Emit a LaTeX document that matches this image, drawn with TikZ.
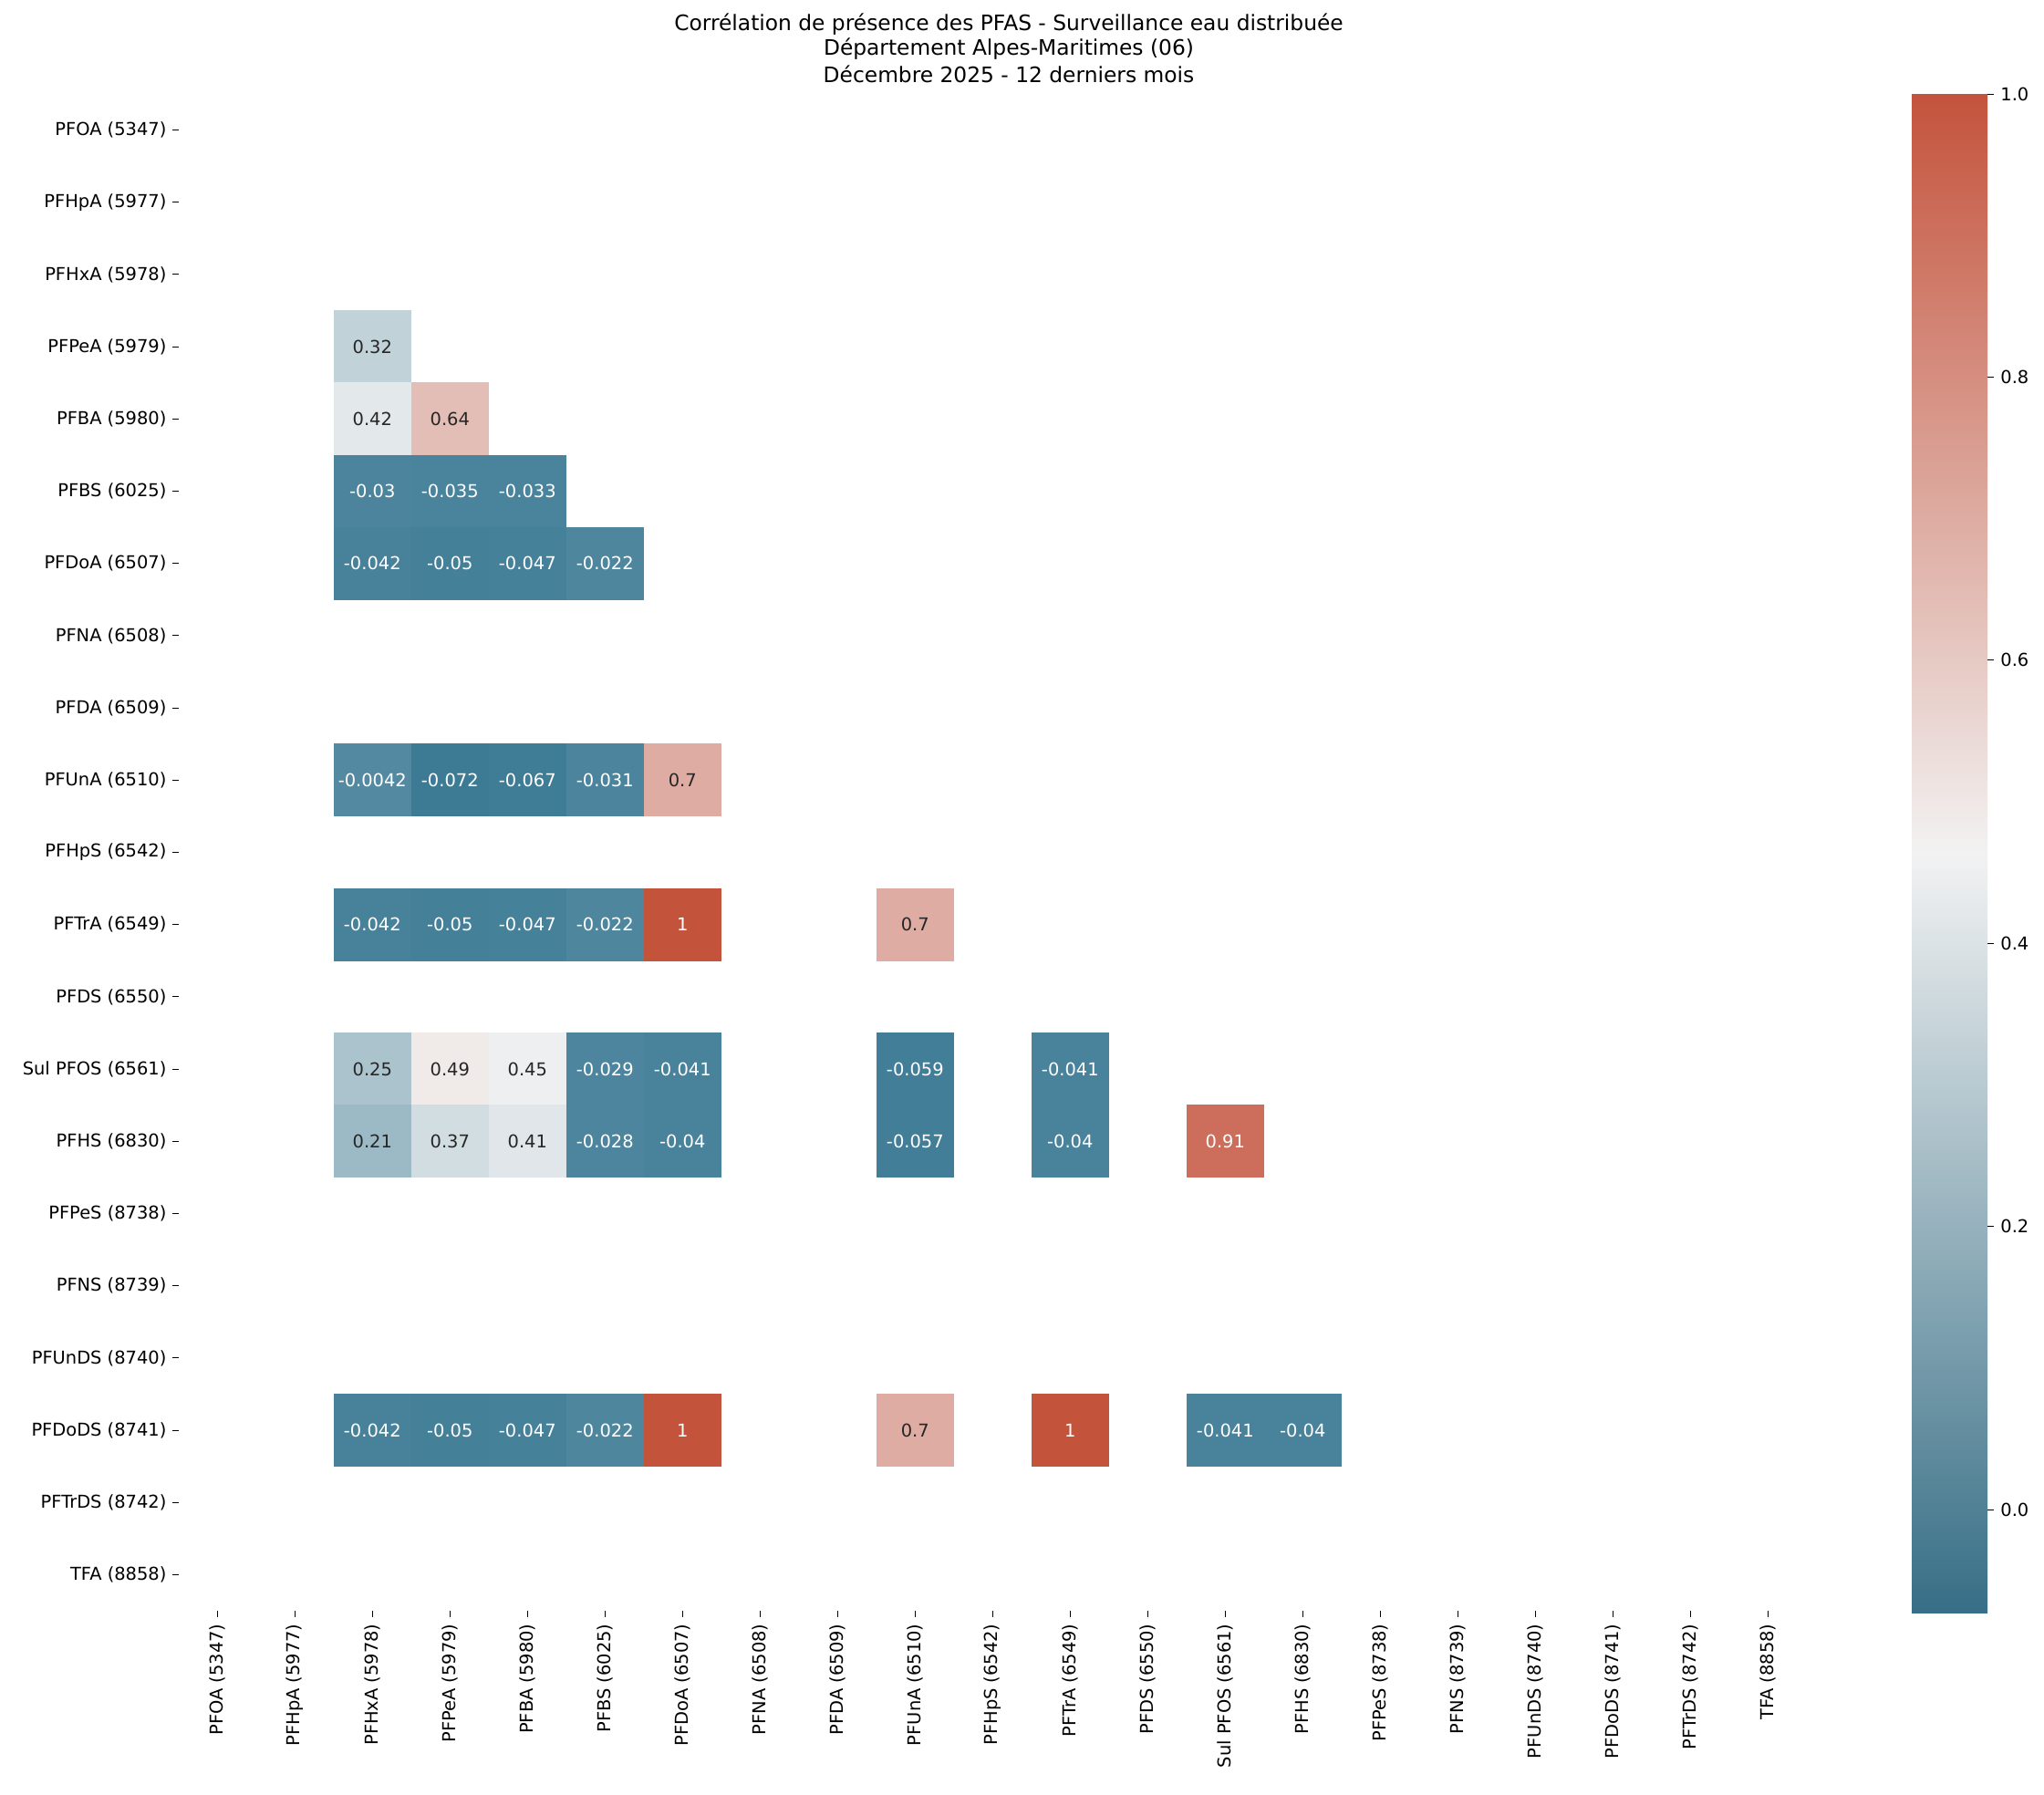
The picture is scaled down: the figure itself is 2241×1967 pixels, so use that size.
\documentclass[tikz,border=0pt]{standalone}
\usepackage{fontspec}
\setmainfont{DejaVu Sans}
\begin{document}
\definecolor{lo}{RGB}{61,123,149}
\definecolor{mid}{RGB}{242,242,242}
\definecolor{hi}{RGB}{196,83,60}
\definecolor{dk}{RGB}{38,38,38}
\begin{tikzpicture}[x=0.5pt,y=-0.5pt,
  lab/.style={font=\fontsize{9.72}{11}\selectfont,inner sep=0pt},
  ann/.style={font=\fontsize{9.72}{11}\selectfont,inner sep=0pt},
  tick/.style={line width=0.5pt}]
\useasboundingbox (0,0) rectangle (2241,1967);
\def\xo{195.8}\def\yo{102.9}\def\cw{85}\def\ch{79.2}
% title
\node[lab,font=\fontsize{11.67}{13}\selectfont] (t1) at (1106,27) {Corrélation de présence des PFAS - Surveillance eau distribuée};
\node[lab,font=\fontsize{11.67}{13}\selectfont] (t2) at (1106,54) {Département Alpes-Maritimes (06)};
\node[lab,font=\fontsize{11.67}{13}\selectfont] (t3) at (1106,81) {Décembre 2025 - 12 derniers mois};
% labels
\foreach \n [count=\i from 0] in {PFOA (5347),PFHpA (5977),PFHxA (5978),PFPeA (5979),PFBA (5980),PFBS (6025),PFDoA (6507),PFNA (6508),PFDA (6509),PFUnA (6510),PFHpS (6542),PFTrA (6549),PFDS (6550),Sul PFOS (6561),PFHS (6830),PFPeS (8738),PFNS (8739),PFUnDS (8740),PFDoDS (8741),PFTrDS (8742),TFA (8858)}{
  \pgfmathsetmacro\yy{\yo+(\i+0.5)*\ch}
  \pgfmathsetmacro\xx{\xo+(\i+0.5)*\cw}
  \draw[tick] (\xo-7,\yy) -- (\xo,\yy);
  \node[lab,anchor=east] (yl\i) at (\xo-13,\yy) {\n};
  \draw[tick] (\xx,1766) -- (\xx,1773);
  \node[lab,anchor=east,rotate=90] (xl\i) at (\xx,1780) {\n};
}
% cells
\foreach \r/\c/\v/\tc in {3/2/0.32/dk,4/2/0.42/dk,4/3/0.64/dk,
 5/2/-0.03/white,5/3/-0.035/white,5/4/-0.033/white,
 6/2/-0.042/white,6/3/-0.05/white,6/4/-0.047/white,6/5/-0.022/white,
 9/2/-0.0042/white,9/3/-0.072/white,9/4/-0.067/white,9/5/-0.031/white,9/6/0.7/dk,
 11/2/-0.042/white,11/3/-0.05/white,11/4/-0.047/white,11/5/-0.022/white,11/6/1/white,11/9/0.7/dk,
 13/2/0.25/dk,13/3/0.49/dk,13/4/0.45/dk,13/5/-0.029/white,13/6/-0.041/white,13/9/-0.059/white,13/11/-0.041/white,
 14/2/0.21/dk,14/3/0.37/dk,14/4/0.41/dk,14/5/-0.028/white,14/6/-0.04/white,14/9/-0.057/white,14/11/-0.04/white,14/13/0.91/white,
 18/2/-0.042/white,18/3/-0.05/white,18/4/-0.047/white,18/5/-0.022/white,18/6/1/white,18/9/0.7/dk,18/11/1/white,18/13/-0.041/white,18/14/-0.04/white}{
  \ifdim\v pt<0.464pt
    \pgfmathsetmacro\p{(\v+0.0727)/0.5367*100}
    \colorlet{cc}{mid!\p!lo}
  \else
    \pgfmathsetmacro\p{(\v-0.464)/0.536*100}
    \colorlet{cc}{hi!\p!mid}
  \fi
  \fill[cc] (\xo+\c*\cw-0.3,\yo+\r*\ch-0.3) rectangle (\xo+\c*\cw+\cw+0.3,\yo+\r*\ch+\ch+0.3);
  \node[ann,text=\tc] (v\r-\c) at (\xo+\c*\cw+0.5*\cw,\yo+\r*\ch+0.5*\ch) {\v};
}
% colorbar
\shade[top color=hi,bottom color=mid] (2096,103) rectangle (2179,935.5);
\shade[top color=mid,bottom color=lo!90!black] (2096,935.5) rectangle (2179,1768);
\foreach \t in {0.0,0.2,0.4,0.6,0.8,1.0}{
  \pgfmathsetmacro\yy{103+(1-\t)/1.0727*1665}
  \draw[tick] (2179,\yy) -- (2186,\yy);
  \node[lab,anchor=west] (cb\t) at (2193,\yy) {\t};
}
\end{tikzpicture}
\end{document}
